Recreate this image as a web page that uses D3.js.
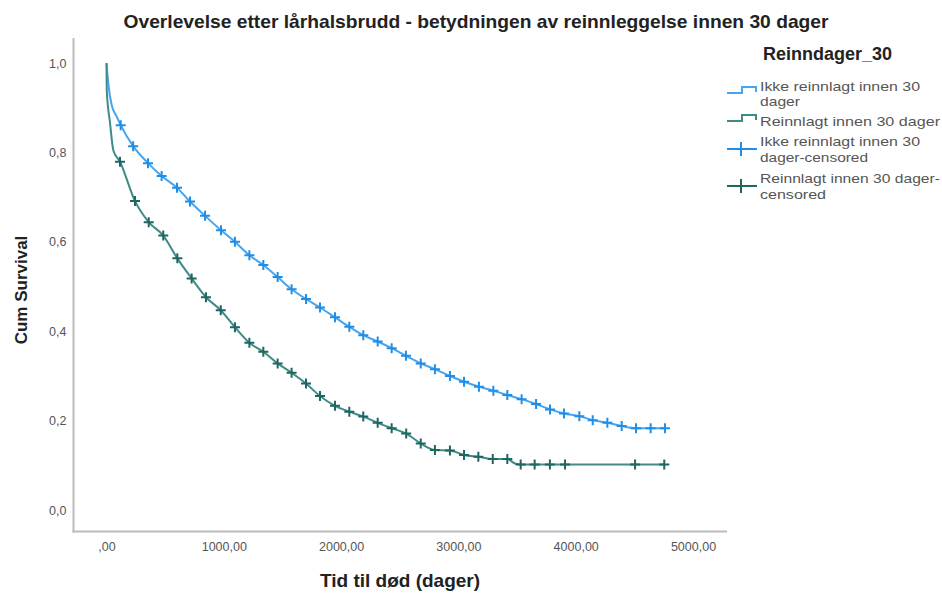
<!DOCTYPE html>
<html>
<head>
<meta charset="utf-8">
<script src="https://cdn.jsdelivr.net/npm/d3@7/dist/d3.min.js"></script>
<style>
  html, body { margin: 0; padding: 0; background: #fff; }
  svg { display: block; font-family: "Liberation Sans", Arial, sans-serif; }
</style>
</head>
<body>
<svg id="chart" width="942" height="593"></svg>
<script>
// Kaplan–Meier survival after hip fracture, split by 30-day readmission
const chartTitle = "Overlevelse etter lårhalsbrudd - betydningen av reinnleggelse innen 30 dager";
const xTitle = "Tid til død (dager)";
const yTitle = "Cum Survival";
const legendTitle = "Reinndager_30";

const xTicks = [0, 1000, 2000, 3000, 4000, 5000];
const xTickLabels = [",00", "1000,00", "2000,00", "3000,00", "4000,00", "5000,00"];
const yTicks = [0, 0.2, 0.4, 0.6, 0.8, 1.0];
const yTickLabels = ["0,0", "0,2", "0,4", "0,6", "0,8", "1,0"];

// Not readmitted within 30 days
const notReadmTime = [0, 15, 44, 87, 121, 227, 354, 470, 601, 712, 840, 976, 1095, 1218, 1337, 1459, 1578, 1701, 1820, 1948, 2070, 2189, 2312, 2431, 2553, 2679, 2800, 2928, 3048, 3175, 3298, 3417, 3539, 3662, 3781, 3900, 4031, 4145, 4270, 4392, 4514, 4639, 4761];
const notReadmSurv = [1.0, 0.955, 0.906, 0.880, 0.861, 0.814, 0.776, 0.747, 0.721, 0.690, 0.658, 0.626, 0.600, 0.570, 0.548, 0.521, 0.494, 0.472, 0.453, 0.431, 0.410, 0.391, 0.377, 0.362, 0.345, 0.328, 0.315, 0.300, 0.287, 0.276, 0.267, 0.257, 0.248, 0.237, 0.225, 0.216, 0.210, 0.201, 0.195, 0.188, 0.183, 0.183, 0.183];
const notReadmCensTime = [121, 227, 354, 470, 601, 712, 840, 976, 1095, 1218, 1337, 1459, 1578, 1701, 1820, 1948, 2070, 2189, 2312, 2431, 2553, 2679, 2800, 2928, 3048, 3175, 3298, 3417, 3539, 3662, 3781, 3900, 4031, 4145, 4270, 4392, 4514, 4639, 4761];
const notReadmCensSurv = [0.861, 0.814, 0.776, 0.747, 0.721, 0.690, 0.658, 0.626, 0.600, 0.570, 0.548, 0.521, 0.494, 0.472, 0.453, 0.431, 0.410, 0.391, 0.377, 0.362, 0.345, 0.328, 0.315, 0.300, 0.287, 0.276, 0.267, 0.257, 0.248, 0.237, 0.225, 0.216, 0.210, 0.201, 0.195, 0.188, 0.183, 0.183, 0.183];

// Readmitted within 30 days
const readmTime = [0, 2, 30, 58, 115, 243, 360, 484, 604, 726, 848, 974, 1095, 1218, 1337, 1459, 1578, 1701, 1820, 1948, 2070, 2189, 2312, 2431, 2555, 2679, 2800, 2928, 3048, 3170, 3293, 3417, 3482, 3531, 3650, 3780, 3909, 4506, 4755];
const readmSurv = [1.0, 0.94, 0.866, 0.805, 0.779, 0.691, 0.644, 0.614, 0.563, 0.518, 0.476, 0.447, 0.409, 0.374, 0.354, 0.328, 0.307, 0.283, 0.255, 0.233, 0.220, 0.209, 0.195, 0.183, 0.171, 0.149, 0.134, 0.133, 0.123, 0.119, 0.114, 0.114, 0.104, 0.102, 0.102, 0.102, 0.102, 0.102, 0.102];
const readmCensTime = [115, 243, 360, 484, 604, 726, 848, 974, 1095, 1218, 1337, 1459, 1578, 1701, 1820, 1948, 2070, 2189, 2312, 2431, 2555, 2679, 2800, 2928, 3048, 3170, 3293, 3417, 3531, 3650, 3780, 3909, 4506, 4755];
const readmCensSurv = [0.779, 0.691, 0.644, 0.614, 0.563, 0.518, 0.476, 0.447, 0.409, 0.374, 0.354, 0.328, 0.307, 0.283, 0.255, 0.233, 0.220, 0.209, 0.195, 0.183, 0.171, 0.149, 0.134, 0.133, 0.123, 0.119, 0.114, 0.114, 0.102, 0.102, 0.102, 0.102, 0.102, 0.102];

const legendLabels = [
  ["Ikke reinnlagt innen 30", "dager"],
  ["Reinnlagt innen 30 dager"],
  ["Ikke reinnlagt innen 30", "dager-censored"],
  ["Reinnlagt innen 30 dager-", "censored"]
];

const colors = {
  blueLine: "#46a4f0", blueMark: "#1f8ee8",
  tealLine: "#3f8b86", tealMark: "#1d6662",
  axis: "#bcbcbc", tick: "#555", text: "#222"
};

const svg = d3.select("#chart");

// Plot frame
const frame = { left: 73.5, right: 727, top: 38, bottom: 531.5 };
const x = d3.scaleLinear().domain([0, 5000]).range([106.5, 693]);
const y = d3.scaleLinear().domain([0, 1]).range([510, 63]);

svg.append("line")
  .attr("x1", frame.left).attr("x2", frame.left)
  .attr("y1", frame.top).attr("y2", frame.bottom + 1)
  .attr("stroke", colors.axis).attr("stroke-width", 2);
svg.append("line")
  .attr("x1", frame.left - 1).attr("x2", frame.right)
  .attr("y1", frame.bottom).attr("y2", frame.bottom)
  .attr("stroke", colors.axis).attr("stroke-width", 2);

// Tick labels through d3 axes (no tick marks, no domain line)
const xAxis = d3.axisBottom(x).tickValues(xTicks).tickSize(0).tickPadding(11)
  .tickFormat((d, i) => xTickLabels[i]);
const gx = svg.append("g").attr("transform", `translate(0,${frame.bottom})`).call(xAxis);
gx.select(".domain").remove();
gx.selectAll("text").attr("font-size", 12.5).attr("fill", colors.tick)
  .attr("font-family", "Liberation Sans, Arial, sans-serif");

const yAxis = d3.axisLeft(y).tickValues(yTicks).tickSize(0).tickPadding(7)
  .tickFormat((d, i) => yTickLabels[i]);
const gy = svg.append("g").attr("transform", `translate(${frame.left},0)`).call(yAxis);
gy.select(".domain").remove();
gy.selectAll("text").attr("font-size", 12.5).attr("fill", colors.tick)
  .attr("font-family", "Liberation Sans, Arial, sans-serif");

// Survival curves
const line = d3.line().x(d => x(d[0])).y(d => y(d[1])).curve(d3.curveMonotoneX);
const series = [
  { t: notReadmTime, s: notReadmSurv, ct: notReadmCensTime, cs: notReadmCensSurv, lc: colors.blueLine, mc: colors.blueMark },
  { t: readmTime, s: readmSurv, ct: readmCensTime, cs: readmCensSurv, lc: colors.tealLine, mc: colors.tealMark }
];

series.forEach(sr => {
  svg.append("path")
    .datum(d3.zip(sr.t, sr.s))
    .attr("d", line)
    .attr("fill", "none")
    .attr("stroke", sr.lc)
    .attr("stroke-width", 2)
    .attr("stroke-linejoin", "round");
});

// Censoring marks
const cross = 5;
series.forEach(sr => {
  const g = svg.append("g").attr("stroke", sr.mc).attr("stroke-width", 2);
  g.selectAll("path").data(d3.zip(sr.ct, sr.cs)).join("path")
    .attr("d", d => {
      const cx = x(d[0]), cy = y(d[1]);
      return `M${cx - cross},${cy}H${cx + cross}M${cx},${cy - cross}V${cy + cross}`;
    });
});

// Titles
svg.append("text")
  .attr("x", 476).attr("y", 28)
  .attr("text-anchor", "middle")
  .attr("font-size", 19).attr("font-weight", "bold")
  .attr("fill", colors.text)
  .attr("textLength", 705).attr("lengthAdjust", "spacingAndGlyphs")
  .text(chartTitle);

svg.append("text")
  .attr("x", 400).attr("y", 587)
  .attr("text-anchor", "middle")
  .attr("font-size", 19).attr("font-weight", "bold")
  .attr("fill", colors.text)
  .text(xTitle);

svg.append("text")
  .attr("transform", "translate(27,290) rotate(-90)")
  .attr("text-anchor", "middle")
  .attr("font-size", 17).attr("font-weight", "bold")
  .attr("fill", colors.text)
  .text(yTitle);

// Legend
const lg = svg.append("g");
lg.append("text")
  .attr("x", 763).attr("y", 60)
  .attr("font-size", 18).attr("font-weight", "bold")
  .attr("fill", colors.text)
  .text(legendTitle);

const legendRows = [
  { lines: [91, 106], widths: [160, 40], sym: "step", c: colors.blueLine, cy: 93 },
  { lines: [126], widths: [180], sym: "step", c: colors.tealLine, cy: 121 },
  { lines: [146, 162], widths: [160, 108], sym: "cross", c: colors.blueMark, cy: 149 },
  { lines: [183, 199], widths: [180, 66], sym: "cross", c: colors.tealMark, cy: 186 }
];

legendRows.forEach((row, i) => {
  if (row.sym === "step") {
    lg.append("path")
      .attr("d", `M727,${row.cy}H742V${row.cy - 6}H756V${row.cy - 1}`)
      .attr("fill", "none").attr("stroke", row.c).attr("stroke-width", 2);
  } else {
    lg.append("path")
      .attr("d", `M727,${row.cy}H757M741,${row.cy - 7}V${row.cy + 7}`)
      .attr("fill", "none").attr("stroke", row.c).attr("stroke-width", 2);
  }
  legendLabels[i].forEach((txt, j) => {
    lg.append("text")
      .attr("x", 760).attr("y", row.lines[j])
      .attr("font-size", 13.5)
      .attr("fill", "#555")
      .attr("textLength", row.widths[j]).attr("lengthAdjust", "spacingAndGlyphs")
      .text(txt);
  });
});
</script>
</body>
</html>
